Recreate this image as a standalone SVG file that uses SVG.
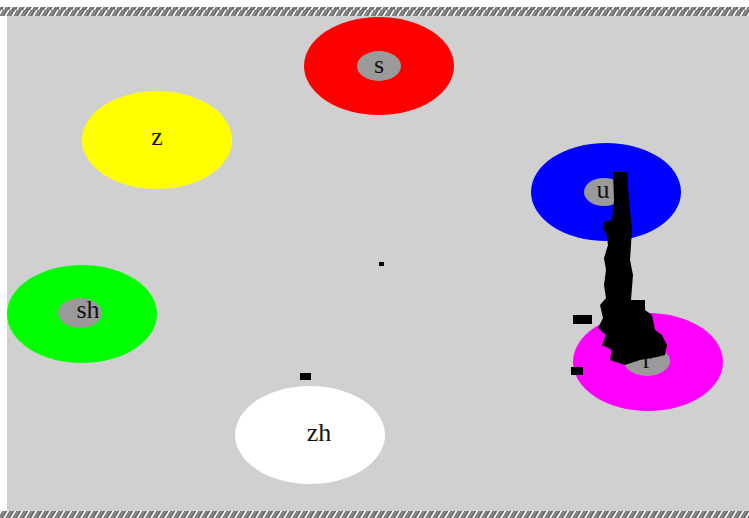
<svg xmlns="http://www.w3.org/2000/svg" width="749" height="518" viewBox="0 0 749 518">
<defs>
<pattern id="hatch" width="14" height="10" patternUnits="userSpaceOnUse">
<rect width="14" height="10" fill="#6e6e6e"/>
<path d="M3 10 L9 0 M-4 10 L2 0 M10 10 L16 0" stroke="#ffffff" stroke-width="1.6"/>
<path d="M6 10 L12 0 M-1 10 L5 0" stroke="#a0a0a0" stroke-width="1"/>
</pattern>
<style>
.lbl{font-family:"Liberation Serif","Times New Roman",serif;font-size:26px;fill:#111;text-anchor:middle}
.core{fill:#9a9a9a}
.ink{fill:#000}
</style>
</defs>
<rect width="749" height="518" fill="#ffffff"/>
<rect x="7" y="7" width="742" height="506" fill="#d0d0d0"/>
<rect x="0" y="7" width="749" height="9" fill="url(#hatch)"/>
<rect x="0" y="511" width="749" height="7" fill="url(#hatch)"/>
<g id="node-s">
<ellipse cx="379" cy="66" rx="75" ry="49" fill="#ff0000"/>
<ellipse class="core" cx="379" cy="66" rx="22" ry="15"/>
<text class="lbl" x="379" y="73">s</text>
</g>
<g id="node-z">
<ellipse cx="157" cy="140" rx="75" ry="49" fill="#ffff00"/>
<text class="lbl" x="157" y="145">z</text>
</g>
<g id="node-u">
<ellipse cx="606" cy="192" rx="75" ry="49" fill="#0000ff"/>
<ellipse class="core" cx="604" cy="192" rx="20" ry="14"/>
<text class="lbl" x="603" y="198">u</text>
</g>
<g id="node-sh">
<ellipse cx="82" cy="314" rx="75" ry="49" fill="#00ff00"/>
<ellipse class="core" cx="80" cy="313" rx="22" ry="15"/>
<text class="lbl" x="88" y="318">sh</text>
</g>
<g id="node-zh">
<ellipse cx="310" cy="435" rx="75" ry="49" fill="#ffffff"/>
<text class="lbl" x="319" y="441">zh</text>
</g>
<g id="node-r">
<ellipse cx="648" cy="362" rx="75" ry="49" fill="#ff00ff"/>
<ellipse class="core" cx="647" cy="361" rx="23" ry="15"/>
<text class="lbl" x="647" y="368">r</text>
</g>
<g id="connectors">
<path class="ink" d="M613 172 L627 172 L629 200 L632 230 L630 260 L633 275 L631 300 L645 300 L645 310 L652 315 L655 330 L662 335 L667 345 L665 355 L657 357 L640 360 L625 365 L610 360 L612 350 L602 345 L606 335 L598 328 L603 318 L600 305 L606 298 L604 285 L606 270 L604 258 L608 245 L606 232 L603 230 L604 222 L612 220 L614 200 Z"/>
<rect class="ink" x="573" y="315" width="19" height="9"/>
<rect class="ink" x="571" y="367" width="12" height="8"/>
<rect class="ink" x="300" y="373" width="11" height="7"/>
<rect class="ink" x="379" y="262" width="5" height="4"/>
</g>
</svg>
